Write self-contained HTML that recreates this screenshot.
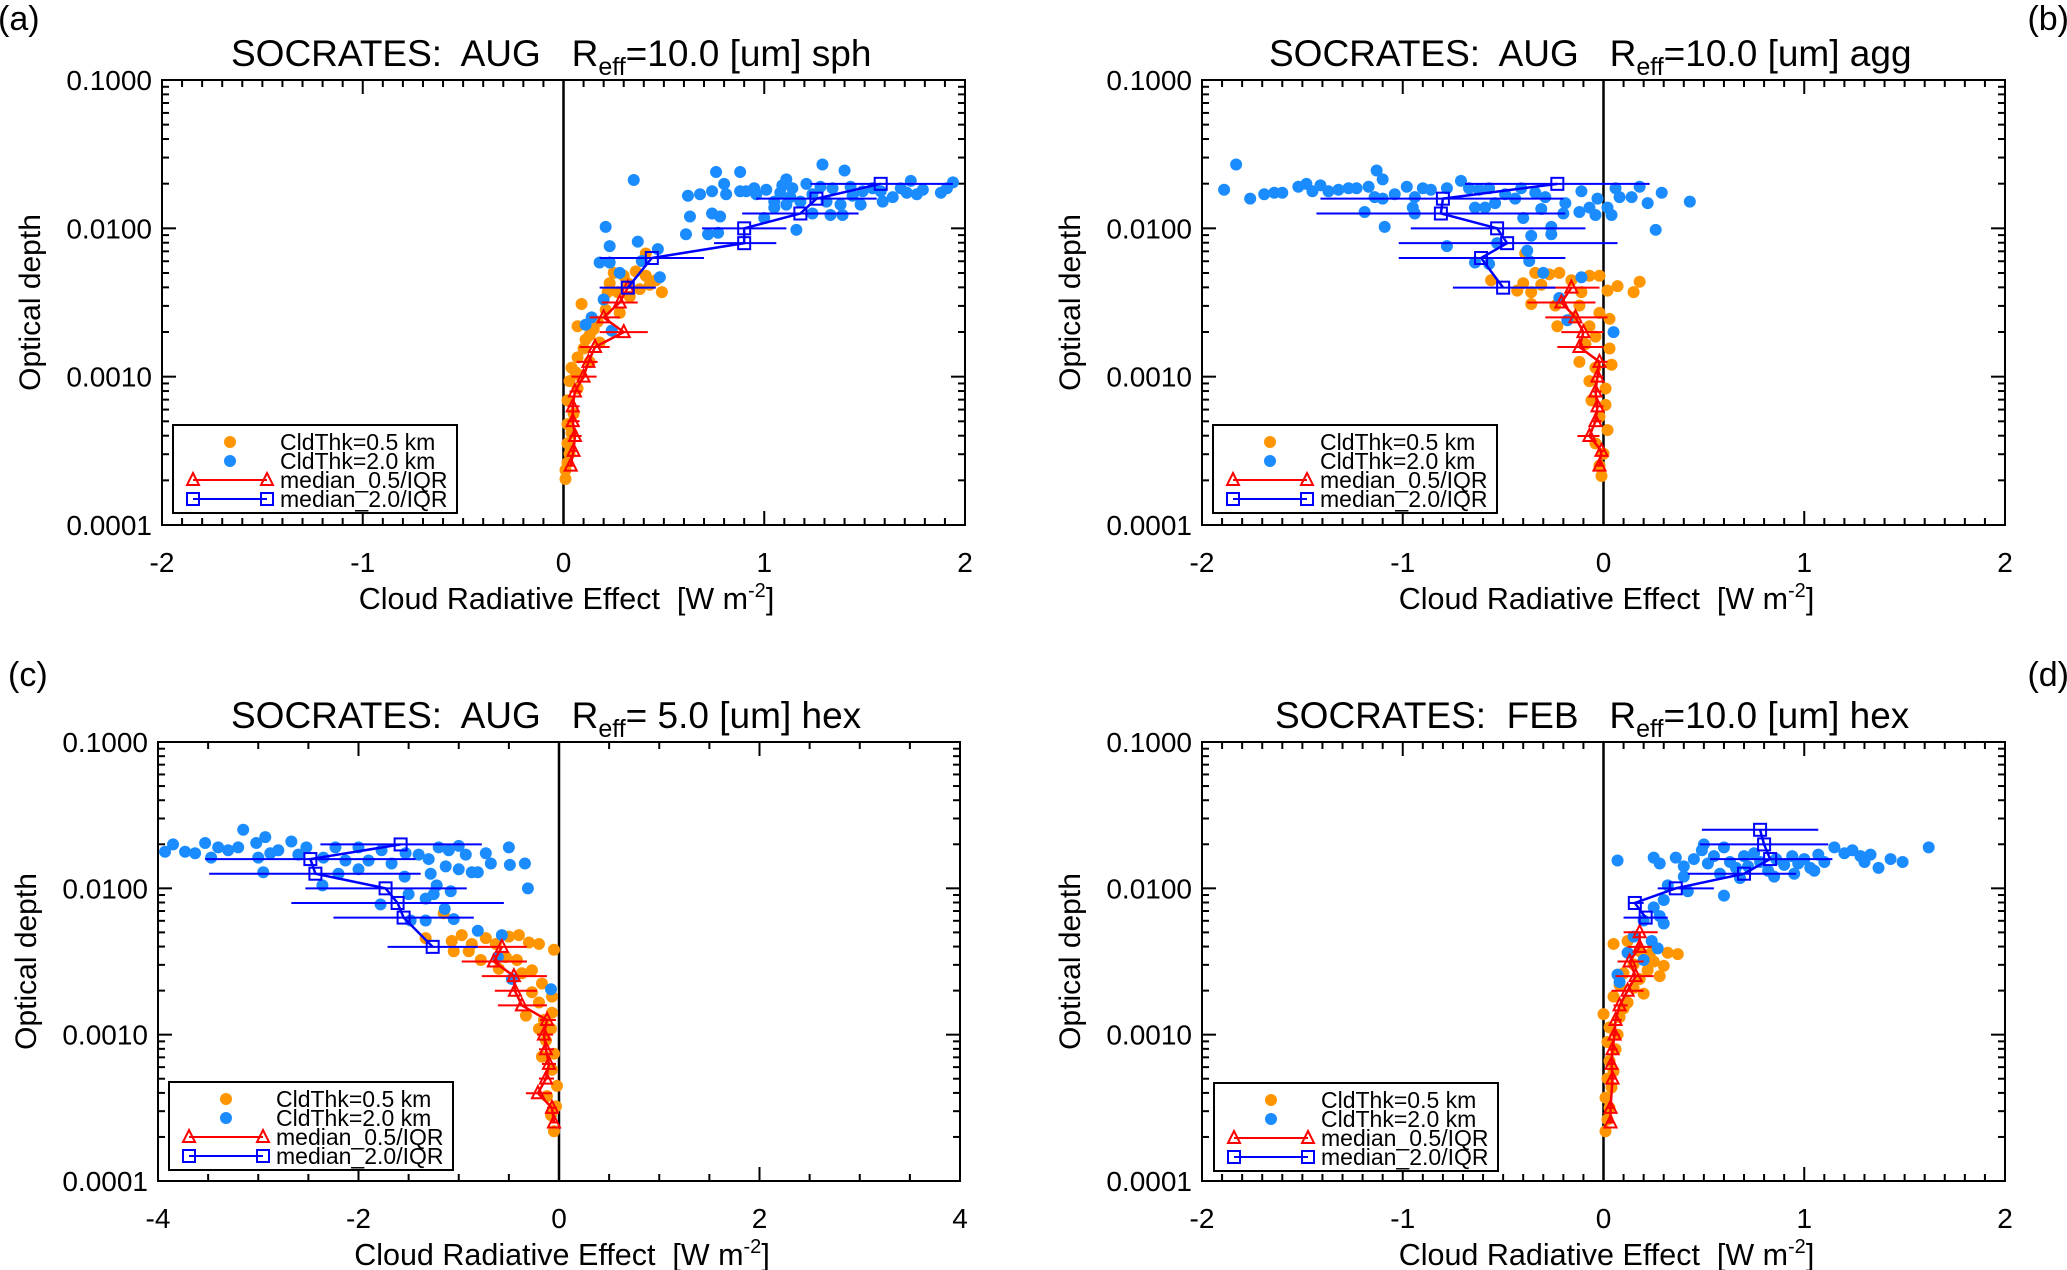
<!DOCTYPE html>
<html><head><meta charset="utf-8"><style>
html,body{margin:0;padding:0;background:#fff;}
svg{display:block;font-family:"Liberation Sans",sans-serif;}
.pre{white-space:pre;}
</style></head><body>
<svg id="fig" width="2067" height="1270" viewBox="0 0 2067 1270" xmlns="http://www.w3.org/2000/svg"></svg>
<script>
// ---- data: [CRE (W m-2), log10(optical depth)] ----
const aOrange=[[0.25,-2.30],[0.30,-2.32],[0.36,-2.29],[0.41,-2.32],[0.46,-2.35],[0.49,-2.43],[0.38,-2.41],[0.32,-2.37],[0.27,-2.43],[0.22,-2.43],[0.41,-2.17],[0.21,-2.55],[0.28,-2.57],[0.09,-2.51],[0.07,-2.66],[0.17,-2.63],[0.13,-2.72],[0.18,-2.77],[0.10,-2.81],[0.07,-2.87],[0.13,-2.90],[0.04,-2.94],[0.08,-2.99],[0.03,-3.03],[0.07,-3.08],[0.02,-3.16],[0.05,-3.25],[0.02,-3.32],[0.04,-3.38],[0.02,-3.45],[0.03,-3.52],[0.02,-3.58],[0.01,-3.63],[0.01,-3.69],[0.33,-2.46],[0.43,-2.38],[0.23,-2.37],[0.15,-2.68],[0.11,-2.75],[0.06,-2.97]];
const aBlue=[[0.35,-1.674],[1.29,-1.57],[1.40,-1.61],[0.76,-1.62],[0.88,-1.62],[1.11,-1.67],[1.73,-1.68],[1.94,-1.69],[0.62,-1.78],[0.68,-1.77],[0.74,-1.75],[0.81,-1.77],[0.88,-1.75],[0.95,-1.73],[1.01,-1.74],[1.08,-1.76],[1.14,-1.73],[1.21,-1.70],[1.28,-1.72],[1.34,-1.73],[1.43,-1.72],[1.49,-1.75],[1.54,-1.73],[1.64,-1.79],[1.71,-1.76],[1.79,-1.74],[1.88,-1.76],[1.59,-1.82],[1.48,-1.84],[1.38,-1.84],[1.33,-1.91],[1.39,-1.91],[1.24,-1.90],[1.05,-1.86],[1.11,-1.84],[1.00,-1.93],[1.16,-2.01],[0.78,-1.92],[0.74,-1.90],[0.63,-1.92],[0.61,-2.04],[0.72,-2.04],[0.77,-2.03],[0.21,-1.99],[0.23,-2.12],[0.37,-2.09],[0.18,-2.23],[0.23,-2.23],[0.47,-2.14],[0.39,-2.22],[0.28,-2.30],[0.48,-2.33],[0.20,-2.48],[0.14,-2.60],[0.11,-2.65],[0.24,-2.69],[1.05,-1.82],[1.13,-1.79],[1.18,-1.82],[1.24,-1.77],[1.31,-1.82],[1.44,-1.78],[1.58,-1.75],[1.68,-1.73],[1.76,-1.77],[1.91,-1.73],[0.96,-1.77],[0.91,-1.75],[1.09,-1.71],[0.80,-1.70]];
const aRedMed=[[0.32,-2.4,0.26,0.41],[0.28,-2.5,0.19,0.37],[0.20,-2.6,0.13,0.28],[0.30,-2.7,0.18,0.42],[0.157,-2.8,0.08,0.23],[0.124,-2.9,0.065,0.17],[0.10,-3.0,0.04,0.165],[0.057,-3.1,0.03,0.09],[0.046,-3.2,0.02,0.08],[0.046,-3.3,0.02,0.08],[0.057,-3.4,0.03,0.09],[0.05,-3.5,0.03,0.07],[0.036,-3.6,0.02,0.05]];
const aBlueMed=[[1.58,-1.7,1.23,1.94],[1.26,-1.8,0.96,1.56],[1.18,-1.9,0.89,1.47],[0.90,-2.0,0.69,1.11],[0.90,-2.1,0.75,1.06],[0.44,-2.2,0.18,0.70],[0.32,-2.4,0.18,0.46]];

const bOrange=[[-0.56,-2.35],[-0.39,-2.17],[-0.34,-2.30],[-0.27,-2.31],[-0.22,-2.30],[-0.40,-2.37],[-0.43,-2.42],[-0.36,-2.43],[-0.36,-2.51],[-0.31,-2.38],[-0.16,-2.35],[-0.07,-2.32],[-0.02,-2.32],[0.02,-2.42],[0.07,-2.39],[0.15,-2.43],[-0.11,-2.43],[-0.24,-2.52],[-0.12,-2.52],[-0.02,-2.57],[-0.23,-2.66],[-0.07,-2.66],[0.03,-2.61],[-0.04,-2.73],[0.03,-2.81],[-0.12,-2.90],[-0.04,-2.94],[0.04,-2.92],[-0.07,-3.03],[0.01,-3.08],[-0.06,-3.16],[0.01,-3.19],[-0.02,-3.27],[0.02,-3.36],[-0.04,-3.45],[0.00,-3.52],[-0.02,-3.60],[-0.01,-3.67],[0.18,-2.36],[-0.15,-2.60],[-0.09,-2.78]];
const bBlue=[[-1.89,-1.74],[-1.83,-1.57],[-1.76,-1.80],[-1.69,-1.77],[-1.64,-1.76],[-1.60,-1.76],[-1.52,-1.72],[-1.48,-1.70],[-1.45,-1.75],[-1.41,-1.71],[-1.37,-1.75],[-1.32,-1.74],[-1.27,-1.73],[-1.23,-1.73],[-1.17,-1.72],[-1.13,-1.61],[-1.10,-1.67],[-1.10,-1.80],[-1.14,-1.79],[-1.19,-1.89],[-1.09,-1.99],[-1.04,-1.77],[-0.98,-1.72],[-0.94,-1.79],[-0.90,-1.73],[-0.86,-1.74],[-0.95,-1.86],[-0.94,-1.90],[-0.78,-1.73],[-0.71,-1.68],[-0.67,-1.73],[-0.62,-1.74],[-0.57,-1.73],[-0.64,-1.86],[-0.59,-1.86],[-0.54,-1.83],[-0.49,-1.77],[-0.44,-1.80],[-0.41,-1.73],[-0.40,-1.93],[-0.36,-2.05],[-0.38,-2.15],[-0.37,-2.22],[-0.31,-1.87],[-0.26,-1.99],[-0.26,-2.04],[-0.34,-1.76],[-0.29,-1.79],[-0.19,-1.83],[-0.20,-1.90],[-0.11,-1.75],[-0.12,-1.89],[-0.07,-1.86],[-0.03,-1.80],[-0.04,-1.91],[0.02,-1.86],[0.04,-1.91],[0.06,-1.73],[0.08,-1.79],[0.14,-1.79],[0.18,-1.72],[0.22,-1.83],[0.26,-2.01],[0.29,-1.76],[0.43,-1.82],[-0.78,-2.12],[-0.64,-2.23],[-0.57,-2.24],[-0.53,-2.10],[-0.30,-2.30],[-0.11,-2.33],[-0.18,-2.62],[-0.22,-2.47],[0.05,-2.70]];
const bRedMed=[[-0.16,-2.4,-0.29,-0.02],[-0.21,-2.5,-0.38,-0.04],[-0.14,-2.6,-0.29,0.02],[-0.10,-2.7,-0.21,0.0],[-0.12,-2.8,-0.23,0.0],[-0.02,-2.9,-0.04,0.02],[-0.03,-3.0,-0.05,0.0],[-0.04,-3.1,-0.06,-0.01],[-0.03,-3.2,-0.05,0.0],[-0.04,-3.3,-0.06,-0.01],[-0.07,-3.4,-0.13,-0.02],[-0.01,-3.5,-0.03,0.01],[-0.02,-3.6,-0.04,0.0]];
const bBlueMed=[[-0.23,-1.7,-0.69,0.23],[-0.80,-1.8,-1.41,-0.20],[-0.81,-1.9,-1.43,-0.19],[-0.53,-2.0,-0.96,-0.09],[-0.48,-2.1,-1.02,0.07],[-0.61,-2.2,-1.02,-0.19],[-0.50,-2.4,-0.75,-0.24]];

const cOrange=[[-1.33,-2.34],[-1.15,-2.17],[-1.07,-2.36],[-0.97,-2.32],[-0.87,-2.38],[-0.73,-2.34],[-0.63,-2.38],[-0.50,-2.33],[-0.40,-2.32],[-0.30,-2.37],[-0.20,-2.38],[-0.05,-2.42],[-1.05,-2.43],[-0.90,-2.43],[-0.78,-2.49],[-0.53,-2.47],[-0.42,-2.49],[-0.27,-2.56],[-0.37,-2.58],[-0.17,-2.65],[-0.27,-2.71],[-0.07,-2.74],[-0.20,-2.78],[-0.33,-2.87],[-0.07,-2.85],[-0.20,-2.96],[-0.08,-2.96],[-0.13,-3.04],[-0.05,-3.13],[-0.17,-3.15],[-0.07,-3.24],[-0.02,-3.35],[-0.12,-3.42],[-0.03,-3.49],[-0.08,-3.55],[-0.05,-3.66],[-0.60,-2.55],[-0.15,-2.90]];
const cBlue=[[-3.93,-1.75],[-3.85,-1.70],[-3.73,-1.75],[-3.63,-1.76],[-3.53,-1.69],[-3.47,-1.79],[-3.40,-1.72],[-3.30,-1.74],[-3.20,-1.72],[-3.15,-1.60],[-3.02,-1.69],[-3.00,-1.79],[-2.93,-1.65],[-2.88,-1.76],[-2.80,-1.74],[-2.67,-1.68],[-2.60,-1.77],[-2.52,-1.72],[-2.95,-1.89],[-2.35,-1.79],[-2.23,-1.72],[-2.13,-1.81],[-2.00,-1.72],[-1.90,-1.81],[-1.77,-1.74],[-1.67,-1.83],[-1.53,-1.76],[-1.40,-1.77],[-1.30,-1.80],[-1.20,-1.72],[-1.10,-1.74],[-1.00,-1.71],[-0.93,-1.77],[-1.13,-1.85],[-1.00,-1.87],[-0.87,-1.89],[-0.81,-1.89],[-0.73,-1.76],[-0.68,-1.83],[-0.49,-1.84],[-0.34,-1.83],[-0.31,-2.00],[-1.28,-1.90],[-1.54,-1.92],[-2.20,-1.90],[-2.00,-1.87],[-2.36,-1.98],[-1.50,-2.04],[-1.33,-2.07],[-1.25,-2.04],[-1.22,-1.98],[-1.08,-2.02],[-1.78,-2.11],[-1.14,-2.14],[-1.05,-2.21],[-1.33,-2.22],[-1.48,-2.22],[-0.81,-2.29],[-0.57,-2.32],[-0.61,-2.47],[-0.47,-2.62],[-0.08,-2.69],[-0.50,-1.72]];
const cRedMed=[[-0.57,-2.4,-0.84,-0.32],[-0.65,-2.5,-0.97,-0.32],[-0.45,-2.6,-0.77,-0.12],[-0.44,-2.7,-0.64,-0.22],[-0.37,-2.8,-0.61,-0.12],[-0.12,-2.9,-0.19,-0.03],[-0.15,-3.0,-0.22,-0.06],[-0.13,-3.1,-0.20,-0.05],[-0.10,-3.2,-0.17,-0.03],[-0.13,-3.3,-0.20,-0.05],[-0.21,-3.4,-0.33,-0.07],[-0.07,-3.5,-0.12,-0.02],[-0.05,-3.6,-0.09,-0.01]];
const cBlueMed=[[-1.58,-1.7,-2.38,-0.77],[-2.48,-1.8,-3.53,-1.43],[-2.43,-1.9,-3.49,-1.38],[-1.73,-2.0,-2.53,-0.92],[-1.61,-2.1,-2.67,-0.55],[-1.55,-2.2,-2.25,-0.85],[-1.26,-2.4,-1.71,-0.81]];

const dOrange=[[0.05,-2.38],[0.12,-2.36],[0.18,-2.43],[0.23,-2.45],[0.32,-2.44],[0.37,-2.45],[0.25,-2.50],[0.15,-2.52],[0.10,-2.58],[0.22,-2.56],[0.28,-2.60],[0.08,-2.66],[0.15,-2.68],[0.20,-2.72],[0.05,-2.74],[0.12,-2.78],[0.00,-2.86],[0.08,-2.88],[0.03,-2.95],[0.07,-3.00],[0.02,-3.05],[0.06,-3.10],[0.03,-3.18],[0.05,-3.25],[0.02,-3.30],[0.04,-3.36],[0.01,-3.43],[0.03,-3.50],[0.02,-3.58],[0.01,-3.66],[0.25,-2.40],[0.30,-2.53],[0.18,-2.62],[0.10,-2.82]];
const dBlue=[[0.07,-1.81],[0.25,-1.79],[0.28,-1.83],[0.36,-1.79],[0.40,-1.85],[0.45,-1.80],[0.49,-1.74],[0.52,-1.83],[0.55,-1.78],[0.60,-1.72],[0.63,-1.82],[0.66,-1.86],[0.70,-1.78],[0.72,-1.85],[0.75,-1.76],[0.78,-1.82],[0.82,-1.88],[0.86,-1.80],[0.90,-1.84],[0.94,-1.78],[0.97,-1.83],[1.00,-1.80],[1.03,-1.86],[1.07,-1.77],[1.10,-1.82],[1.15,-1.72],[1.20,-1.76],[1.24,-1.74],[1.28,-1.78],[1.30,-1.82],[1.33,-1.77],[1.37,-1.86],[1.43,-1.80],[1.49,-1.82],[1.62,-1.72],[0.50,-1.70],[0.58,-1.90],[0.68,-1.93],[0.85,-1.92],[0.95,-1.90],[1.05,-1.88],[0.40,-1.92],[0.32,-1.98],[0.42,-2.02],[0.60,-2.05],[0.30,-2.08],[0.25,-2.13],[0.28,-2.19],[0.20,-2.22],[0.30,-2.24],[0.24,-2.36],[0.27,-2.41],[0.15,-2.33],[0.12,-2.44],[0.07,-2.59],[0.08,-2.64],[0.20,-2.49]];
const dRedMed=[[0.18,-2.3,0.10,0.27],[0.18,-2.4,0.12,0.24],[0.13,-2.5,0.07,0.20],[0.16,-2.6,0.06,0.25],[0.12,-2.7,0.04,0.20],[0.08,-2.8,0.05,0.12],[0.06,-2.9,0.04,0.09],[0.055,-3.0,0.03,0.08],[0.045,-3.1,0.03,0.07],[0.04,-3.2,0.02,0.06],[0.045,-3.3,0.03,0.06],[0.035,-3.5,0.02,0.05],[0.035,-3.6,0.02,0.05]];
const dBlueMed=[[0.78,-1.6,0.49,1.07],[0.80,-1.7,0.48,1.12],[0.83,-1.8,0.53,1.14],[0.70,-1.9,0.42,0.96],[0.36,-2.0,0.27,0.55],[0.156,-2.1,0.13,0.20],[0.21,-2.2,0.10,0.32]];

const yTickLabels=["0.0001","0.0010","0.0100","0.1000"];
const legendLabels=["CldThk=0.5 km","CldThk=2.0 km","median_0.5/IQR","median_2.0/IQR"];

const NS="http://www.w3.org/2000/svg";
const svg=document.getElementById('fig');
function el(tag,attrs,parent){const e=document.createElementNS(NS,tag);for(const k in attrs)e.setAttribute(k,attrs[k]);(parent||svg).appendChild(e);return e;}

const ORANGE="#ff9500",BLUE="#1a8cff",RED="#ff0000",DBLUE="#0000ff";

function panel(p){
  const g=el('g',{});
  
  
  const W=p.x1-p.x0,H=p.y1-p.y0;
  const sx=v=>p.x0+(v-p.xmin)/(p.xmax-p.xmin)*W;
  const sy=l=>p.y1-(l+4)/3*H;
  const tk=el('g',{stroke:'#000','stroke-width':2},g);
  
  
  for(let v=p.xmin;v<=p.xmax+1e-9;v+=p.minor){
    const maj=Math.abs(v/p.major-Math.round(v/p.major))<1e-6;
    const L=maj?14:7,x=sx(v);
    el('line',{x1:x,y1:p.y1,x2:x,y2:p.y1-L},tk);
    el('line',{x1:x,y1:p.y0,x2:x,y2:p.y0+L},tk);
  }
  for(let d=-4;d<=-1;d++){
    for(let m=1;m<=9;m++){
      if(d===-1&&m>1)break;
      const l=d+Math.log10(m),y=sy(l),L=m===1?14:7;
      el('line',{x1:p.x0,y1:y,x2:p.x0+L,y2:y},tk);
      el('line',{x1:p.x1,y1:y,x2:p.x1-L,y2:y},tk);
    }
  }
  for(let v=p.xmin;v<=p.xmax+1e-9;v+=p.major){
    const t=el('text',{x:sx(v),y:p.y1+47,'font-size':28,'text-anchor':'middle'},g);
    t.textContent=String(Math.round(v));
    
    
  }
  yTickLabels.forEach((s,i)=>{
    const t=el('text',{x:p.x0-10,y:sy(-4+i)+10,'font-size':28,'text-anchor':'end'},g);
    t.textContent=s;
    
    
  });
  const z=el('line',{x1:sx(0),y1:p.y0,x2:sx(0),y2:p.y1,stroke:'#000','stroke-width':2.5},g);
  
  
  const so=el('g',{fill:ORANGE},g);
  
  
  p.orange.forEach(d=>{const c=el('circle',{cx:sx(d[0]),cy:sy(d[1]),r:6},so);});
  const sb=el('g',{fill:BLUE},g);
  
  
  p.blue.forEach(d=>{const c=el('circle',{cx:sx(d[0]),cy:sy(d[1]),r:6},sb);});
  function med(arr,col,shape,name){
    const mg=el('g',{stroke:col,fill:'none'},g);
    
    
    arr.forEach(d=>{const l=el('line',{x1:sx(d[2]),y1:sy(d[1]),x2:sx(d[3]),y2:sy(d[1]),'stroke-width':2},mg);});
    const pl=el('polyline',{points:arr.map(d=>sx(d[0])+','+sy(d[1])).join(' '),'stroke-width':2.5},mg);
    
    
    arr.forEach(d=>{
      const x=sx(d[0]),y=sy(d[1]);let m;
      if(shape==='tri')m=el('polygon',{points:`${x-6},${y+5} ${x+6},${y+5} ${x},${y-7}`,'stroke-width':2},mg);
      else m=el('rect',{x:x-6,y:y-6,width:12,height:12,'stroke-width':2},mg);
      
      
    });
  }
  med(p.redMed,RED,'tri','median-0.5km');
  med(p.blueMed,DBLUE,'sq','median-2.0km');
  const fr=el('rect',{x:p.x0,y:p.y0,width:W,height:H,fill:'none',stroke:'#000','stroke-width':2},g);
  
  
  const lg=el('g',{},g);
  
  
  const lx=p.lx,ly=p.ly;
  el('rect',{x:lx,y:ly,width:284,height:88,fill:'#fff',stroke:'#000','stroke-width':2},lg);
  const rows=[17,36,55,74];
  el('circle',{cx:lx+57,cy:ly+rows[0],r:6,fill:ORANGE},lg);
  el('circle',{cx:lx+57,cy:ly+rows[1],r:6,fill:BLUE},lg);
  el('line',{x1:lx+20,y1:ly+rows[2],x2:lx+94,y2:ly+rows[2],stroke:RED,'stroke-width':2},lg);
  [20,94].forEach(o=>el('polygon',{points:`${lx+o-6},${ly+rows[2]+5} ${lx+o+6},${ly+rows[2]+5} ${lx+o},${ly+rows[2]-7}`,fill:'none',stroke:RED,'stroke-width':2},lg));
  el('line',{x1:lx+20,y1:ly+rows[3],x2:lx+94,y2:ly+rows[3],stroke:DBLUE,'stroke-width':2},lg);
  [20,94].forEach(o=>el('rect',{x:lx+o-6,y:ly+rows[3]-6,width:12,height:12,fill:'none',stroke:DBLUE,'stroke-width':2},lg));
  legendLabels.forEach((s,i)=>{
    const t=el('text',{x:lx+107,y:ly+rows[i]+8,'font-size':23},lg);
    t.textContent=s;
    
    
  });
  const tt=el('text',{x:p.tx,y:p.y0-14,'font-size':37,'class':'pre'},g);
  
  
  tt.innerHTML=p.t1+'<tspan font-size="25" dy="9">eff</tspan><tspan dy="-9">'+p.t2+'</tspan>';
  const xt=el('text',{x:(p.x0+p.x1)/2+3,y:p.y1+84,'font-size':30.5,'text-anchor':'middle','class':'pre'},g);
  
  
  xt.innerHTML='Cloud Radiative Effect  [W m<tspan font-size="20" dy="-12">-2</tspan><tspan dy="12">]</tspan>';
  const yc=(p.y0+p.y1)/2;
  const yt=el('text',{x:p.x0-122,y:yc,'font-size':30,'text-anchor':'middle',transform:`rotate(-90 ${p.x0-122} ${yc})`},g);
  
  
  yt.textContent='Optical depth';
  const pl=el('text',{x:p.lab[0],y:p.lab[1],'font-size':34,'text-anchor':p.lab[2]},g);
  
  
  pl.textContent='('+p.id+')';
}

panel({id:'a',x0:162,x1:965,y0:80,y1:525,xmin:-2,xmax:2,major:1,minor:0.1,orange:aOrange,blue:aBlue,redMed:aRedMed,blueMed:aBlueMed,lx:173,ly:425,tx:231,t1:'SOCRATES:  AUG   R',t2:'=10.0 [um] sph',lab:[-2,30,'start']});
panel({id:'b',x0:1202,x1:2005,y0:80,y1:525,xmin:-2,xmax:2,major:1,minor:0.1,orange:bOrange,blue:bBlue,redMed:bRedMed,blueMed:bBlueMed,lx:1213,ly:425,tx:1269,t1:'SOCRATES:  AUG   R',t2:'=10.0 [um] agg',lab:[2069,30,'end']});
panel({id:'c',x0:158,x1:960,y0:742,y1:1181,xmin:-4,xmax:4,major:2,minor:0.5,orange:cOrange,blue:cBlue,redMed:cRedMed,blueMed:cBlueMed,lx:169,ly:1082,tx:231,t1:'SOCRATES:  AUG   R',t2:'= 5.0 [um] hex',lab:[8,686,'start']});
panel({id:'d',x0:1202,x1:2005,y0:742,y1:1181,xmin:-2,xmax:2,major:1,minor:0.1,orange:dOrange,blue:dBlue,redMed:dRedMed,blueMed:dBlueMed,lx:1214,ly:1083,tx:1275,t1:'SOCRATES:  FEB   R',t2:'=10.0 [um] hex',lab:[2069,686,'end']});
</script>
</body></html>
